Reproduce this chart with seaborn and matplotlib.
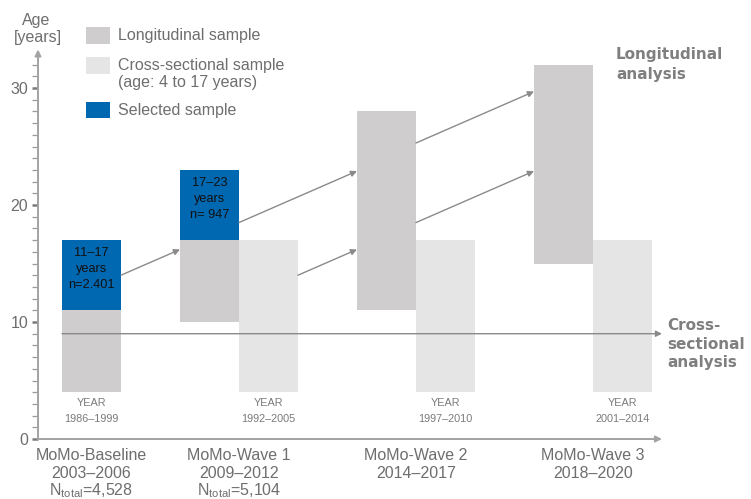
import matplotlib
matplotlib.use("Agg")
import matplotlib.pyplot as plt
from matplotlib.patches import Rectangle
from matplotlib.ticker import FixedLocator
import seaborn as sns

# ---- data -------------------------------------------------------------
wave_names = ["MoMo-Baseline", "MoMo-Wave 1", "MoMo-Wave 2", "MoMo-Wave 3"]
wave_periods = ["2003–2006", "2009–2012", "2014–2017", "2018–2020"]
wave_totals = ["4,528", "5,104", None, None]
birth_years = ["1986–1999", "1992–2005", "1997–2010", "2001–2014"]

# longitudinal sample age ranges per wave (years)
long_age_min = [4, 10, 11, 15]
long_age_max = [11, 17, 28, 32]

# cross-sectional sample (age 4 to 17) for waves 1-3
cross_age_min = [4, 4, 4]
cross_age_max = [17, 17, 17]

# selected sample (baseline and wave 1)
sel_age_min = [11, 17]
sel_age_max = [17, 23]
sel_n = ["n=2.401", "n= 947"]

# follow-up arrows: (start age, end age)
arrow_start_age = [14.0, 18.5, 14.0, 25.3, 18.5]
arrow_end_age = [16.2, 22.9, 16.2, 29.7, 22.9]

cross_analysis_age = 9

# ---- style ------------------------------------------------------------
sns.set_theme(style="white")
plt.rcParams["font.family"] = ["Liberation Sans", "DejaVu Sans"]
plt.rcParams["mathtext.fontset"] = "custom"
plt.rcParams["mathtext.rm"] = "Liberation Sans"

C_LONG = "#cfcdce"
C_CROSS = "#e5e5e5"
C_SEL = "#0067b1"
C_LINE = "#8a8a8a"
C_TEXT = "#6e6e6e"
C_AXIS = "#a3a3a3"

W, H = 751, 499
fig = plt.figure(figsize=(W / 100, H / 100), dpi=100)

# axes placed so the axis lines sit at x=38px, y=439px
px_per_x = 59.0
px_per_y = 11.7
x0_px, y0_px = 91.5, 439.0
left_px = 38.0
ax = fig.add_axes([left_px / W, (H - y0_px) / H, (W - left_px) / W, y0_px / H])
ax.set_xlim((left_px - x0_px) / px_per_x, (W - x0_px) / px_per_x)
ax.set_ylim(0, y0_px / px_per_y)
ax.patch.set_alpha(0)

# bar positions (slots of one bar width)
long_x = [0, 2, 5, 8]
cross_x = [3, 6, 9]
sel_x = [0, 2]
group_x = [0, 2.5, 5.5, 8.5]
year_x = [0, 3, 6, 9]


def floating_bar(x, lo, hi, color):
    sns.barplot(x=[x], y=[hi - lo], bottom=lo, native_scale=True, width=1.0,
                color=color, saturation=1, errorbar=None, linewidth=0,
                ax=ax, zorder=2)


for x, lo, hi in zip(long_x, long_age_min, long_age_max):
    floating_bar(x, lo, hi, C_LONG)
for x, lo, hi in zip(cross_x, cross_age_min, cross_age_max):
    floating_bar(x, lo, hi, C_CROSS)
for x, lo, hi in zip(sel_x, sel_age_min, sel_age_max):
    floating_bar(x, lo, hi, C_SEL)

ax.set_xlim((left_px - x0_px) / px_per_x, (W - x0_px) / px_per_x)
ax.set_ylim(0, y0_px / px_per_y)
ax.set_xlabel("")
ax.set_ylabel("")

# labels inside selected-sample bars
step = 16 / px_per_y
for x, lo, hi, n in zip(sel_x, sel_age_min, sel_age_max, sel_n):
    mid = (lo + hi) / 2 + 0.55
    for k, line in enumerate([f"{lo}–{hi}", "years", n]):
        ax.text(x, mid + (1 - k) * step, line, ha="center", va="center",
                fontsize=9.2, color="#111111", zorder=4)

# follow-up arrows between waves
arrow_x0 = [0.5, 2.5, 3.5, 5.5, 5.5]
arrow_x1 = [1.5, 4.5, 4.5, 7.5, 7.5]
for xs, xe, ys, ye in zip(arrow_x0, arrow_x1, arrow_start_age, arrow_end_age):
    ax.annotate("", xy=(xe, ye), xytext=(xs, ys),
                arrowprops=dict(arrowstyle="-|>", color=C_LINE, lw=1.0,
                                mutation_scale=9, shrinkA=0, shrinkB=0),
                zorder=3)

# cross-sectional analysis line
x_end = (662 - x0_px) / px_per_x
ax.annotate("", xy=(x_end, cross_analysis_age), xytext=(-0.5, cross_analysis_age),
            arrowprops=dict(arrowstyle="-|>", color=C_LINE, lw=1.0,
                            mutation_scale=9, shrinkA=0, shrinkB=0),
            zorder=3)

# axis lines with arrow heads
for s in ax.spines.values():
    s.set_visible(False)
xmin = ax.get_xlim()[0]
ax.annotate("", xy=(xmin, 33.3), xytext=(xmin, 0),
            arrowprops=dict(arrowstyle="-|>", color=C_AXIS, lw=1.4,
                            mutation_scale=9, shrinkA=0, shrinkB=0),
            annotation_clip=False)
ax.annotate("", xy=(x_end, 0), xytext=(xmin - 0.01, 0),
            arrowprops=dict(arrowstyle="-|>", color=C_AXIS, lw=1.4,
                            mutation_scale=9, shrinkA=0, shrinkB=0),
            annotation_clip=False)

# ticks
ax.set_xticks([])
ax.yaxis.set_major_locator(FixedLocator([0, 10, 20, 30]))
ax.yaxis.set_minor_locator(FixedLocator(list(range(0, 33))))
ax.tick_params(axis="y", which="major", left=True, length=4, width=1.8,
               color="#7a7a7a", direction="out", pad=3,
               labelsize=11.5, labelcolor=C_TEXT)
ax.tick_params(axis="y", which="minor", left=True, length=4, width=0.9,
               color="#9a9a9a", direction="out")

# wave labels below the axis
for x, name, period, tot in zip(group_x, wave_names, wave_periods, wave_totals):
    ax.text(x, (y0_px - 455) / px_per_y, name, ha="center", va="center",
            fontsize=11.5, color=C_TEXT)
    ax.text(x, (y0_px - 473) / px_per_y, period, ha="center", va="center",
            fontsize=11.5, color=C_TEXT)
    if tot is not None:
        ax.text(x, (y0_px - 491) / px_per_y, r"N$_{\mathrm{total}}$=" + tot,
                ha="center", va="center", fontsize=11.5, color=C_TEXT)

# birth years of the cross-sectional / baseline sample
for x, yrs in zip(year_x, birth_years):
    ax.text(x, (y0_px - 403.5) / px_per_y, "YEAR", ha="center", va="center",
            fontsize=7.8, color="#7a7a7a")
    ax.text(x, (y0_px - 419.5) / px_per_y, yrs, ha="center", va="center",
            fontsize=7.8, color="#7a7a7a")


# ---- legend and side labels (figure pixel coords) ---------------------
def fx(px):
    return px / W


def fy(py):
    return 1 - py / H


fig.text(fx(36.5), fy(20), "Age", ha="center", va="center", fontsize=11.5, color=C_TEXT)
fig.text(fx(38), fy(37.5), "[years]", ha="center", va="center", fontsize=11.5, color=C_TEXT)

legend_rows = [
    (C_LONG, 27, ["Longitudinal sample"], [35.5]),
    (C_CROSS, 57, ["Cross-sectional sample", "(age: 4 to 17 years)"], [65.5, 83]),
    (C_SEL, 101.5, ["Selected sample"], [110]),
]
for color, top, lines, ys in legend_rows:
    fig.add_artist(Rectangle((fx(86), fy(top + 16.5)), 24 / W, 16.5 / H,
                             transform=fig.transFigure, facecolor=color,
                             edgecolor="none"))
    for line, yy in zip(lines, ys):
        fig.text(fx(118), fy(yy), line, ha="left", va="center",
                 fontsize=11.5, color=C_TEXT)

for line, yy in zip(["Longitudinal", "analysis"], [55, 74.5]):
    fig.text(fx(616), fy(yy), line, ha="left", va="center", fontsize=11,
             fontweight="bold", family="DejaVu Sans", color="#7f7f7f")
for line, yy in zip(["Cross-", "sectional", "analysis"], [326, 344.5, 363]):
    fig.text(fx(667), fy(yy), line, ha="left", va="center", fontsize=11,
             fontweight="bold", family="DejaVu Sans", color="#7f7f7f")

fig.savefig("out.png", dpi=100)
